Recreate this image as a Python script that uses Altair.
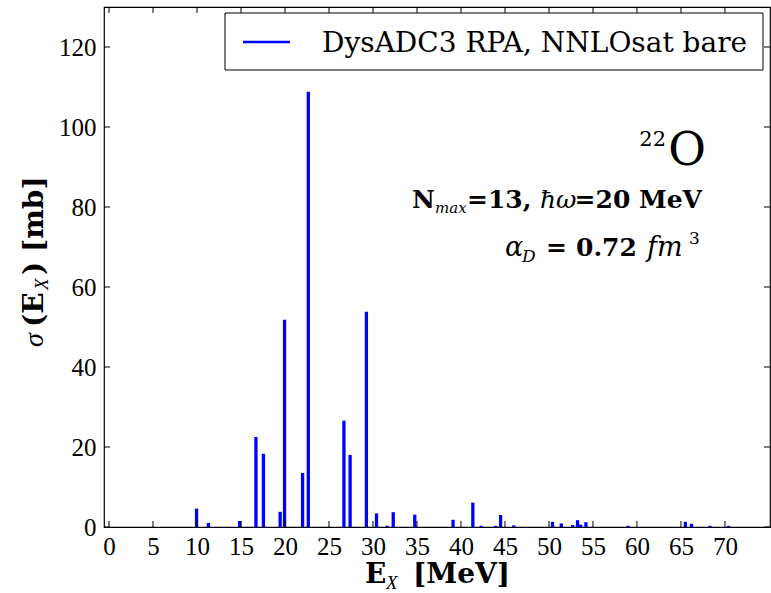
import altair as alt
import pandas as pd

# ---- data ----
energy = [9.95, 11.3, 14.85, 16.7, 17.55, 19.45, 19.95, 22.0, 22.65, 26.7, 27.4,
          29.25, 30.4, 31.6, 32.3, 34.75, 39.1, 41.35, 42.3, 43.95, 44.5, 46.0,
          50.4, 51.4, 52.7, 53.25, 53.6, 54.2, 59.0, 65.5, 66.2, 68.3, 70.4]
xsec = [4.6, 1.0, 1.5, 22.5, 18.3, 3.8, 51.8, 13.5, 108.8, 26.6, 18.0,
        53.8, 3.4, 0.3, 3.7, 3.1, 1.8, 6.1, 0.3, 0.3, 3.0, 0.4,
        1.3, 0.9, 0.5, 1.7, 0.6, 1.2, 0.3, 1.3, 0.8, 0.3, 0.3]
xticks = [0, 5, 10, 15, 20, 25, 30, 35, 40, 45, 50, 55, 60, 65, 70]
yticks = [0, 20, 40, 60, 80, 100, 120]
legend_label = "DysADC3 RPA, NNLOsat bare"

W, H = 666, 520
XMAX = 74.55
YMAX = 130
BLUE = "#0000ff"
SERIF = "Liberation Serif"
DSERIF = "DejaVu Serif"
TICK = 6

xs = alt.Scale(domain=[0, XMAX], nice=False, zero=False)
ys = alt.Scale(domain=[0, YMAX], nice=False)

xaxis = alt.Axis(values=xticks, ticks=False, domain=False, grid=False,
                 labelPadding=7, format="d", labelFlush=False, title=None)
yaxis = alt.Axis(values=yticks, ticks=False, domain=False, grid=False,
                 labelPadding=8, format="d", labelFlush=False, title=None)

bars_df = pd.DataFrame({"E": energy, "s": xsec})

bars = alt.Chart(bars_df).mark_bar(size=3.3, color=BLUE).encode(
    x=alt.X("E:Q", scale=xs, axis=xaxis, title=None),
    y=alt.Y("s:Q", scale=ys, axis=yaxis, title=None),
)

xt = alt.Chart(pd.DataFrame({"t": xticks}))
yt = alt.Chart(pd.DataFrame({"t": yticks}))
tick_style = dict(color="black", strokeWidth=1)
bottom_ticks = xt.mark_rule(**tick_style).encode(
    x=alt.X("t:Q", scale=xs, axis=xaxis, title=None),
    y=alt.value(H), y2=alt.value(H - TICK))
top_ticks = xt.mark_rule(**tick_style).encode(
    x=alt.X("t:Q", scale=xs, axis=xaxis, title=None),
    y=alt.value(0), y2=alt.value(TICK))
left_ticks = yt.mark_rule(**tick_style).encode(
    y=alt.Y("t:Q", scale=ys, axis=yaxis, title=None),
    x=alt.value(0), x2=alt.value(TICK))
right_ticks = yt.mark_rule(**tick_style).encode(
    y=alt.Y("t:Q", scale=ys, axis=yaxis, title=None),
    x=alt.value(W), x2=alt.value(W - TICK))


def label(s, x, y, size, weight="normal", style="normal", align="left",
          angle=0, font=DSERIF):
    kw = dict(text=s, font=font, fontSize=size, fontWeight=weight,
              fontStyle=style, align=align, baseline="alphabetic",
              color="black")
    if angle:
        kw["angle"] = angle
    return alt.Chart(alt.Data(values=[{}])).mark_text(**kw).encode(
        x=alt.value(x), y=alt.value(y))


OX, OY = 104, 7  # plot origin on the page

# legend
legend_box = alt.Chart(alt.Data(values=[{}])).mark_rect(
    fill="white", stroke="black", strokeWidth=1).encode(
    x=alt.value(121), x2=alt.value(659), y=alt.value(6), y2=alt.value(63))
legend_line = alt.Chart(alt.Data(values=[{}])).mark_rule(
    color=BLUE, strokeWidth=2.5).encode(
    x=alt.value(139), x2=alt.value(186), y=alt.value(35))
legend_text = label(legend_label, 218, 45, 28)

# x-axis title  E_X [MeV]
xt1 = label("E", 365 - OX, 576, 28, weight="bold")
xt2 = label("X", 386 - OX, 582, 19, style="italic", font=SERIF)
xt3 = label("[MeV]", 413 - OX, 576, 28, weight="bold")

# y-axis title  σ(E_X) [mb]  (rotated)
yx = 43 - OX
yt1 = label("σ", yx, 347 - OY, 28, style="italic", angle=270, font=SERIF)
yt2 = label("(E", yx, 327 - OY, 28, weight="bold", angle=270)
yt3 = label("X", yx + 5, 290 - OY, 19, style="italic", angle=270, font=SERIF)
yt4 = label(") [mb]", yx, 275 - OY, 28, weight="bold", angle=270)

# annotations
a_o = label("O", 706 - OX, 158, 46, align="right")
a_22 = label("22", 666 - OX, 139, 21, align="right")

NB = 201
n1 = label("N", 412 - OX, NB, 25, weight="bold")
n2 = label("max", 435 - OX, NB + 5, 15, style="italic")
n3 = label("=13,", 467 - OX, NB, 25, weight="bold")
n4 = label("ħω", 540 - OX, NB, 25, style="italic")
n5 = label("=20 MeV", 702 - OX, NB, 25, weight="bold", align="right")

AB = 249
al1 = label("α", 505 - OX, AB, 27, style="italic")
al2 = label("D", 522 - OX, AB + 6, 17, style="italic")
al3 = label("=", 546 - OX, AB, 25, weight="bold")
al4 = label("0.72", 576 - OX, AB, 25, weight="bold")
al5 = label("fm", 647 - OX, AB, 27, style="italic")
al6 = label("3", 689 - OX, AB - 12, 17)

chart = alt.layer(
    bars, bottom_ticks, top_ticks, left_ticks, right_ticks,
    legend_box, legend_line, legend_text,
    xt1, xt2, xt3, yt1, yt2, yt3, yt4,
    a_o, a_22, n1, n2, n3, n4, n5, al1, al2, al3, al4, al5, al6,
).properties(
    width=W, height=H,
    autosize=alt.AutoSizeParams(type="none"),
    padding={"left": OX, "top": OY, "right": 1, "bottom": 66},
    background="white",
).configure_view(
    stroke="black", strokeWidth=1.2
).configure_axis(
    labelFont=SERIF, labelFontSize=25, labelColor="black"
)

chart.save("out.html", embed_options={"renderer": "svg", "actions": False})
